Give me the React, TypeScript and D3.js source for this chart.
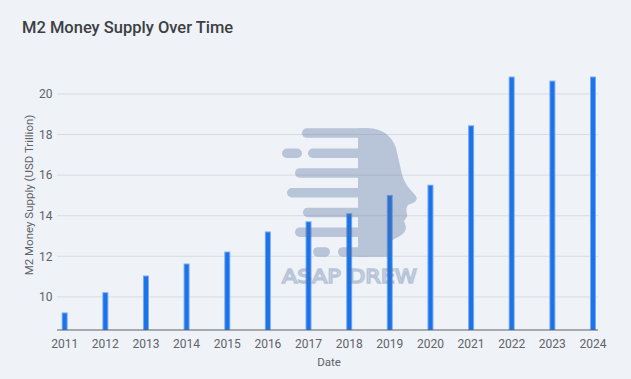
import React from "react";
import * as d3 from "d3";

const years = ["2011","2012","2013","2014","2015","2016","2017","2018","2019","2020","2021","2022","2023","2024"];
const m2Values = [9.21, 10.21, 11.03, 11.62, 12.21, 13.2, 13.7, 14.1, 15.0, 15.5, 18.43, 20.83, 20.63, 20.83];
const yTicks = [10, 12, 14, 16, 18, 20];
const titleText = "M2 Money Supply Over Time";
const yAxisTitle = "M2 Money Supply (USD Trillion)";
const xAxisTitle = "Date";
const watermarkText = "ASAP DREW";

// watermark stripes: [y, x1, x2]
const wmStripes: [number, number, number][] = [
  [128.3, 302, 372], [148.5, 282, 302], [148.5, 308, 372],
  [168.2, 295, 372], [188, 287, 372], [207.7, 303, 372],
  [227.4, 295, 372], [247.2, 313, 330], [247.2, 338, 372],
];

export default function App() {
  const W = 631, H = 379;
  const left = 57, right = 598, bottom = 330;
  const x = d3.scalePoint<string>().domain(years).range([64.7, 593]).padding(0);
  const y = d3.scaleLinear().domain([8.37, 21.5]).range([bottom, bottom - (21.5 - 8.37) * 20.3]);
  const font = "Roboto, 'Noto Sans', sans-serif";
  const headPath =
    "M358,128.3 L368,128.3 C382,128.3 392,136 396,148 L401,170 C402,176 404,181 408,187 L415,195 C418,198 417,201 413,203 L408,205 C406,208 406,211 407,214 C408,217 405,219 404,221 C405,224 407,227 405,231 C403,235 396,238 391,241 L390,256.7 L358,256.7 Z";
  return (
    <svg width={W} height={H} style={{ position: "absolute", left: 0, top: 0, display: "block" }} fontFamily={font}>
      <rect x={0} y={0} width={W} height={H} fill="#eff2f7" />
      <text x={22} y={32.5} fontSize={16.5} fontWeight={500} fill="#3c4043">{titleText}</text>
      {yTicks.map((t) => (
        <g key={t}>
          <line x1={left} x2={right} y1={y(t)} y2={y(t)} stroke="#d8dce2" strokeWidth={1} />
          <text x={52.5} y={y(t)} dy="0.35em" textAnchor="end" fontSize={12} fill="#5f6368">{t}</text>
        </g>
      ))}
      {years.map((yr, i) => {
        const cx = x(yr)!;
        const top = y(m2Values[i]);
        return (
          <g key={yr}>
            <rect x={cx - 3} y={top - 0.5} width={6} height={bottom - top + 0.5} fill="#7aaaf0" />
            <rect x={cx - 2} y={top + 0.5} width={4} height={bottom - top - 0.5} fill="#1a73e8" />
          </g>
        );
      })}
      <line x1={left} x2={right} y1={bottom} y2={bottom} stroke="#5f6368" strokeWidth={1.2} />
      {years.map((yr) => (
        <text key={yr} x={x(yr)!} y={347.5} textAnchor="middle" fontSize={12} fill="#5f6368">{yr}</text>
      ))}
      <text x={329} y={366} textAnchor="middle" fontSize={11.5} fill="#5f6368">{xAxisTitle}</text>
      <text transform="translate(32.5,195) rotate(-90)" textAnchor="middle" fontSize={11.5} fill="#5f6368">{yAxisTitle}</text>
      <g opacity={0.35} fill="#55719e">
        <path d={headPath} />
        {wmStripes.map(([sy, x1, x2], i) => (
          <rect key={i} x={x1} y={sy} width={x2 - x1} height={9.5} rx={4.75} />
        ))}
        <text x={282} y={283} fontSize={20} textLength={135} lengthAdjust="spacingAndGlyphs" fontFamily="'DejaVu Sans', sans-serif" fill="none" stroke="#55719e" strokeWidth={1.6}>{watermarkText}</text>
      </g>
    </svg>
  );
}
